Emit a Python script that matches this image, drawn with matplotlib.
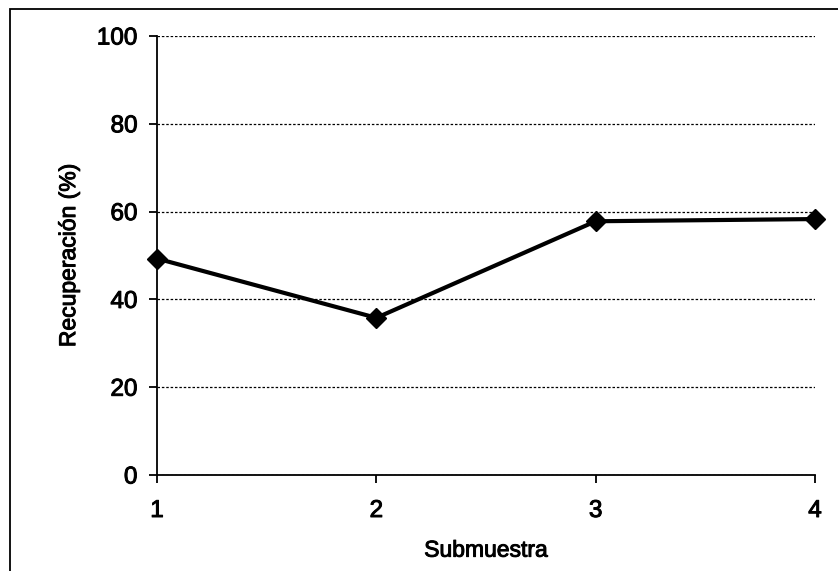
import matplotlib.pyplot as plt
import matplotlib.patheffects as pe
from matplotlib.patches import Rectangle

plt.rcParams['font.family'] = ['Liberation Sans', 'DejaVu Sans']

# Recovery per sub-sample
submuestras = [1, 2, 3, 4]
recuperacion = [49.3, 35.8, 57.8, 58.3]
yticks = [0, 20, 40, 60, 80, 100]

fig = plt.figure(figsize=(8.38, 5.71), dpi=100)
ax = fig.add_axes([157 / 838, 1 - 475 / 571, (815 - 157) / 838, (475 - 36) / 571])

# outer frame of the chart area (right and bottom edges fall outside)
fig.patches.append(Rectangle((10 / 838, -0.02), 1.0, 1 - 9 / 571 + 0.02,
                             transform=fig.transFigure, fill=False,
                             edgecolor='black', linewidth=1.3))

ax.plot(submuestras, recuperacion, color='black', linewidth=3,
        marker='D', markersize=10.5, clip_on=False, zorder=3)

ax.set_xlim(1, 4)
ax.set_ylim(0, 100)
ax.set_xticks(submuestras)
ax.set_yticks(yticks)
ax.yaxis.grid(True, linestyle=(0, (2, 1.5)), color='black', linewidth=0.9)
ax.set_axisbelow(True)

for side in ['top', 'right']:
    ax.spines[side].set_visible(False)
ax.spines['left'].set_linewidth(1.3)
ax.spines['bottom'].set_linewidth(1.3)
ax.tick_params(axis='both', direction='out', length=6, width=1.3, labelsize=17.5)
ax.tick_params(axis='x', pad=12)
ax.tick_params(axis='y', pad=8)

ax.set_xlabel('Submuestra', fontsize=16.5, labelpad=12)
ax.set_ylabel('Recuperación (%)', fontsize=16.5, labelpad=12)

# slightly heavier lettering
heavy = [pe.withStroke(linewidth=0.7, foreground='black')]
for t in ax.get_xticklabels() + ax.get_yticklabels() + [ax.xaxis.label, ax.yaxis.label]:
    t.set_path_effects(heavy)

fig.savefig('out.png', dpi=100)
